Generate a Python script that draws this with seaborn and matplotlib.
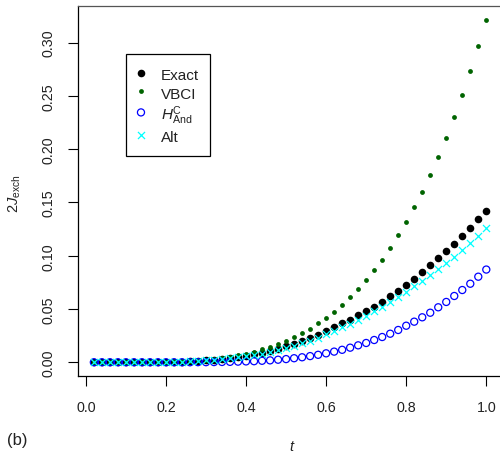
import matplotlib
matplotlib.use("Agg")
import matplotlib.pyplot as plt
import seaborn as sns
import numpy as np
import pandas as pd

t = [0.02, 0.04, 0.06, 0.08, 0.10, 0.12, 0.14, 0.16, 0.18, 0.20,
     0.22, 0.24, 0.26, 0.28, 0.30, 0.32, 0.34, 0.36, 0.38, 0.40,
     0.42, 0.44, 0.46, 0.48, 0.50, 0.52, 0.54, 0.56, 0.58, 0.60,
     0.62, 0.64, 0.66, 0.68, 0.70, 0.72, 0.74, 0.76, 0.78, 0.80,
     0.82, 0.84, 0.86, 0.88, 0.90, 0.92, 0.94, 0.96, 0.98, 1.00]

exact = [0.0000, 0.0000, 0.0000, 0.0000, 0.0000, 0.0000, 0.0001, 0.0001, 0.0002, 0.0003,
         0.0005, 0.0007, 0.0010, 0.0014, 0.0019, 0.0025, 0.0032, 0.0040, 0.0050, 0.0062,
         0.0075, 0.0090, 0.0107, 0.0127, 0.0149, 0.0172, 0.0199, 0.0227, 0.0258, 0.0292,
         0.0328, 0.0366, 0.0401, 0.0439, 0.0478, 0.0522, 0.0569, 0.0619, 0.0672, 0.0728,
         0.0784, 0.0847, 0.0910, 0.0976, 0.1044, 0.1113, 0.1185, 0.1263, 0.1341, 0.1424]

vbci = [0.0000, 0.0000, 0.0000, 0.0000, 0.0000, 0.0001, 0.0001, 0.0002, 0.0003, 0.0005,
        0.0008, 0.0011, 0.0015, 0.0020, 0.0026, 0.0034, 0.0043, 0.0054, 0.0067, 0.0082,
        0.0100, 0.0120, 0.0144, 0.0171, 0.0201, 0.0235, 0.0273, 0.0316, 0.0364, 0.0417,
        0.0475, 0.0539, 0.0610, 0.0687, 0.0772, 0.0864, 0.0964, 0.1072, 0.1190, 0.1316,
        0.1453, 0.1600, 0.1758, 0.1927, 0.2109, 0.2302, 0.2509, 0.2730, 0.2964, 0.3214]

h_and = [0.0000, 0.0000, 0.0000, 0.0000, 0.0000, 0.0000, 0.0000, 0.0000, 0.0000, 0.0000,
         0.0000, 0.0000, 0.0000, 0.0001, 0.0001, 0.0002, 0.0003, 0.0004, 0.0006, 0.0008,
         0.0010, 0.0014, 0.0018, 0.0024, 0.0030, 0.0038, 0.0047, 0.0058, 0.0070, 0.0084,
         0.0100, 0.0117, 0.0137, 0.0159, 0.0181, 0.0209, 0.0237, 0.0268, 0.0303, 0.0343,
         0.0381, 0.0422, 0.0465, 0.0516, 0.0566, 0.0622, 0.0678, 0.0737, 0.0803, 0.0870]

alt = [0.0000, 0.0000, 0.0000, 0.0000, 0.0000, 0.0000, 0.0001, 0.0001, 0.0002, 0.0003,
       0.0004, 0.0006, 0.0009, 0.0013, 0.0017, 0.0022, 0.0029, 0.0036, 0.0045, 0.0055,
       0.0067, 0.0081, 0.0096, 0.0114, 0.0133, 0.0154, 0.0178, 0.0203, 0.0231, 0.0261,
       0.0293, 0.0327, 0.0362, 0.0400, 0.0437, 0.0478, 0.0519, 0.0563, 0.0613, 0.0662,
       0.0713, 0.0763, 0.0816, 0.0875, 0.0932, 0.0991, 0.1053, 0.1119, 0.1188, 0.1263]

x_ticks = [0.0, 0.2, 0.4, 0.6, 0.8, 1.0]
x_ticklabels = ["0.0", "0.2", "0.4", "0.6", "0.8", "1.0"]
y_ticks = [0.00, 0.05, 0.10, 0.15, 0.20, 0.25, 0.30]
y_ticklabels = ["0.00", "0.05", "0.10", "0.15", "0.20", "0.25", "0.30"]

sns.set_theme(style="white")
plt.rcParams['font.family'] = ['Liberation Sans', 'DejaVu Sans']
plt.rcParams['mathtext.fontset'] = 'custom'
plt.rcParams['mathtext.rm'] = 'Liberation Sans'
plt.rcParams['mathtext.it'] = 'Liberation Sans:italic'
plt.rcParams['mathtext.bf'] = 'Liberation Sans:bold'

W, H = 500, 456
fig = plt.figure(figsize=(W / 100, H / 100), dpi=100)
ax_l, ax_r, ax_t, ax_b = 78, 502, 7, 377
ax = fig.add_axes([ax_l / W, 1 - ax_b / H, (ax_r - ax_l) / W, (ax_b - ax_t) / H])

df = pd.DataFrame({"t": t, "exact": exact, "vbci": vbci, "hand": h_and, "alt": alt})

sns.scatterplot(data=df, x="t", y="exact", ax=ax, color="black", marker="o",
                s=30, linewidth=0, label="Exact", zorder=3)
sns.scatterplot(data=df, x="t", y="vbci", ax=ax, color="#006400", marker="o",
                s=12, linewidth=0, label="VBCI", zorder=4)
sns.scatterplot(data=df, x="t", y="hand", ax=ax, marker="o", s=26,
                facecolor="none", edgecolor="#0000FF", linewidth=0.9,
                label=r"$H_{\mathrm{And}}^{\mathrm{C}}$", zorder=5)
sns.scatterplot(data=df, x="t", y="alt", ax=ax, color="#00FFFF", marker="x",
                s=26, linewidth=0.9, label="Alt", zorder=6)

ax.set_xlim(-0.0196, 1.0392)
ax.set_ylim(-0.01288, 0.3343)
ax.set_xticks(x_ticks)
ax.set_xticklabels(x_ticklabels)
ax.set_yticks(y_ticks)
ax.set_yticklabels(y_ticklabels, rotation=90, va="center")
ax.tick_params(axis="both", which="major", direction="out", length=7,
               width=0.8, color="black", labelsize=10.3, labelcolor="#222222",
               bottom=True, left=True)
ax.tick_params(axis="x", pad=10)
ax.tick_params(axis="y", pad=9)
for sp in ax.spines.values():
    sp.set_color("black")
    sp.set_linewidth(0.9)
ax.spines["top"].set_color("#555555")
ax.grid(False)

ax.set_xlabel("")
ax.set_ylabel("")
fig.text(291 / W, 1 - 447 / H, "t", style="italic", fontsize=10.5,
         ha="center", va="center", color="#222222")
fig.text(15 / W, 1 - 194 / H, r"2$J_{\mathrm{exch}}$", rotation=90, fontsize=10.5,
         ha="center", va="center", color="#222222")
fig.text(7 / W, 1 - 441 / H, "(b)", fontsize=12, ha="left", va="center",
         color="#222222")

leg = ax.legend(loc="upper left", bbox_to_anchor=(125.7 / W, 1 - 55 / H),
                bbox_transform=fig.transFigure, frameon=True, fancybox=False,
                edgecolor="black", framealpha=1, fontsize=11,
                borderpad=0.75, labelspacing=0.14, handletextpad=1.05,
                handlelength=0.5, handleheight=1.3, borderaxespad=0)
leg.get_frame().set_linewidth(0.9)
for txt in leg.get_texts():
    txt.set_color("#222222")

fig.savefig("out.png", dpi=100)
